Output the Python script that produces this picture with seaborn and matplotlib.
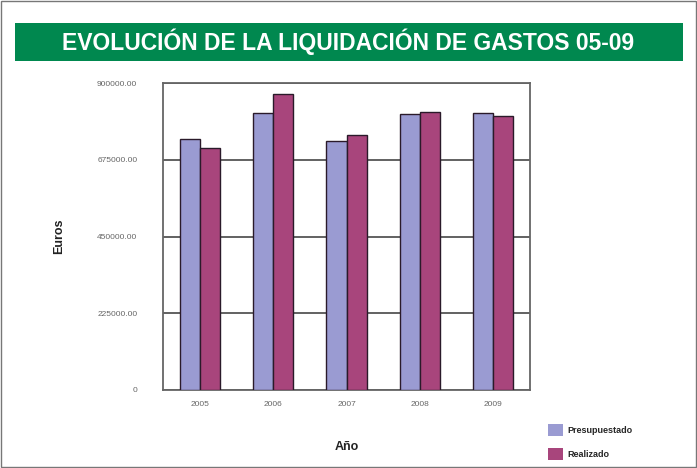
import pandas as pd
import matplotlib.pyplot as plt
import matplotlib.patches as mpatches
from matplotlib.ticker import FuncFormatter
import seaborn as sns

# datos
anios = ["2005", "2006", "2007", "2008", "2009"]
presupuestado = [737000, 811000, 730000, 808000, 811000]
realizado = [710000, 868000, 748000, 814000, 802000]
series = ["Presupuestado", "Realizado"]
y_ticks = [0, 225000, 450000, 675000, 900000]

colores = {"Presupuestado": "#9a9bd2", "Realizado": "#a8457c"}

df = pd.DataFrame({
    "Año": anios * 2,
    "Euros": presupuestado + realizado,
    "Serie": [series[0]] * len(anios) + [series[1]] * len(anios),
})

sns.set_theme(style="white")
plt.rcParams["font.family"] = ["Liberation Sans", "DejaVu Sans"]

fig = plt.figure(figsize=(6.97, 4.68), dpi=100)
ax = fig.add_axes([163 / 697, 78 / 468, 367 / 697, 307 / 468])

sns.barplot(data=df, x="Año", y="Euros", hue="Serie", palette=colores,
            saturation=1, width=0.55, edgecolor="#2a1a2a", linewidth=1.0, ax=ax,
            legend=False, zorder=3)

ax.set_xlim(-0.5, 4.5)
ax.set_ylim(0, 900000)
ax.set_yticks(y_ticks)
ax.yaxis.set_major_formatter(FuncFormatter(lambda v, p: "0" if v == 0 else f"{v:.2f}"))
ax.grid(axis="y", color="#555555", linewidth=1.3, zorder=0)
for s in ax.spines.values():
    s.set_color("#666666")
    s.set_linewidth(1.3)
ax.tick_params(axis="y", labelsize=6, colors="#666666", labelcolor="#666666",
               length=5, direction="inout", pad=16)
ax.tick_params(axis="x", labelsize=6, labelcolor="#666666", bottom=False, pad=2)
ax.set_xlabel("Año", fontsize=9, fontweight="bold", color="#222222", labelpad=24)
ax.set_ylabel("Euros", fontsize=9, fontweight="bold", color="#222222", labelpad=23)

# leyenda abajo a la derecha
handles = [mpatches.Patch(facecolor=colores[s], edgecolor="none", label=s) for s in series]
fig.legend(handles=handles, loc="upper left", bbox_to_anchor=(540 / 697, 1 - 416 / 468),
           frameon=False, handlelength=1.6, handleheight=1.6, handletextpad=0.5,
           labelspacing=1.4, prop={"size": 6.5, "weight": "bold"})

# banda verde del titulo
fig.patches.append(mpatches.Rectangle((15 / 697, 1 - 61 / 468), 668 / 697, 38 / 468,
                                      transform=fig.transFigure, facecolor="#00884f",
                                      edgecolor="none", zorder=0))
fig.text(0.5, 1 - 42 / 468, "EVOLUCIÓN DE LA LIQUIDACIÓN DE GASTOS 05-09",
         ha="center", va="center", color="white", fontsize=16.5, fontweight="bold",
         family=["Liberation Sans Narrow", "Liberation Sans", "DejaVu Sans"])

# marco de la figura
fig.patches.append(mpatches.Rectangle((0.002, 0.002), 0.996, 0.996, transform=fig.transFigure,
                                      facecolor="none", edgecolor="#777777", linewidth=1.0))

fig.savefig("out.png", dpi=100)
